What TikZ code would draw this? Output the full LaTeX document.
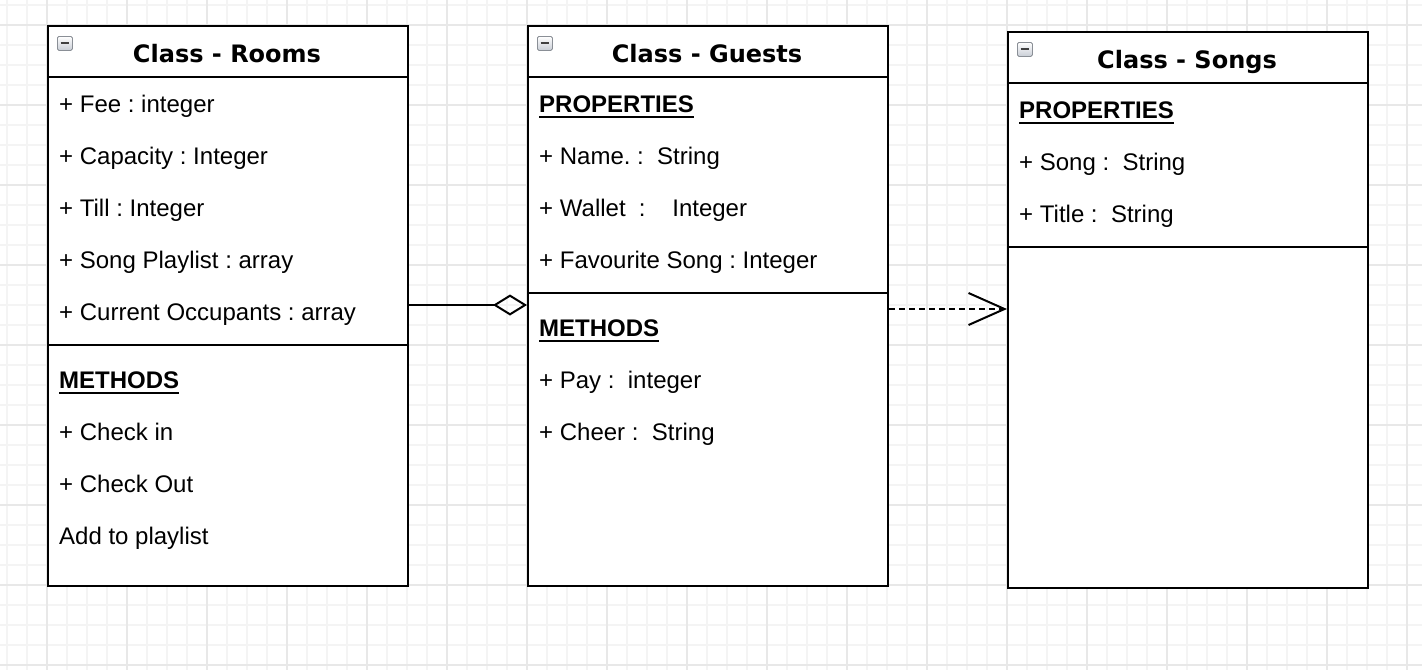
\documentclass[tikz,border=0pt]{standalone}
\usepackage{fontspec}
\setmainfont{Liberation Sans}
\newfontfamily\titlefont{DejaVu Sans}
\usetikzlibrary{arrows.meta}
\definecolor{gridminor}{HTML}{F4F4F4}
\definecolor{gridmajor}{HTML}{E8E8E8}
\definecolor{iconfill}{HTML}{C9CED6}
\definecolor{iconedge}{HTML}{8A8F96}
\newcommand\ulword[1]{\setbox0\hbox{#1}\rlap{\rule[-6pt]{\wd0}{2pt}}\box0}
\tikzset{
  classbox/.style={draw=black, line width=2pt, fill=white, minimum width=360pt, inner sep=0pt, anchor=north west},
  divider/.style={line width=2pt, draw=black},
  ctitle/.style={anchor=base, inner sep=0pt, font=\titlefont\bfseries\fontsize{24}{28}\selectfont},
  attr/.style={anchor=base west, inner sep=0pt, font=\fontsize{24}{28}\selectfont\frenchspacing},
  sect/.style={anchor=base west, inner sep=0pt, font=\bfseries\fontsize{24}{28}\selectfont},
  icon/.style={draw=iconedge, line width=0.8pt, rounded corners=1.5pt, top color=white, bottom color=iconfill, minimum width=15pt, minimum height=14pt, inner sep=0pt, anchor=north west},
  minus/.style={line width=2.4pt, black!75},
  agg/.style={line width=2pt, -{Diamond[open, length=34pt, width=21pt, line width=2pt]}},
  dep/.style={line width=2pt, dash pattern=on 6pt off 4pt, -{Straight Barb[length=36pt, width=32pt, line width=2pt]}}
}
\begin{document}
\begin{tikzpicture}[x=1pt, y=-1pt]
\useasboundingbox (0,0) rectangle (1422,670);
% grid
\foreach \x in {7,27,...,1422} \draw[gridminor, line width=1.2pt] (\x,0) -- (\x,670);
\foreach \y in {5,25,...,670} \draw[gridminor, line width=1.2pt] (0,\y) -- (1422,\y);
\foreach \x in {47,127,...,1422} \draw[gridmajor, line width=1.4pt] (\x,0) -- (\x,670);
\foreach \y in {25,105,...,670} \draw[gridmajor, line width=1.4pt] (0,\y) -- (1422,\y);

% ---------- Rooms ----------
\node[classbox, minimum height=560pt] (rooms) at (47,25) {};
\draw[divider] (47,77) -- (407,77);
\draw[divider] (47,345) -- (407,345);
\node[icon] (roomsicon) at (57,36) {};
\draw[minus] (60.5,43) -- (68.5,43);
\node[ctitle] (roomstitle) at (227,62) {Class - Rooms};
\node[attr] (r1) at (59,112) {+ Fee : integer};
\node[attr] (r2) at (59,164) {+ Capacity : Integer};
\node[attr] (r3) at (59,216) {+ Till : Integer};
\node[attr] (r4) at (59,268) {+ Song Playlist : array};
\node[attr] (r5) at (59,320) {+ Current Occupants : array};
\node[sect] (rm) at (59,388) {\ulword{METHODS}};
\node[attr] (r6) at (59,440) {+ Check in};
\node[attr] (r7) at (59,492) {+ Check Out};
\node[attr] (r8) at (59,544) {Add to playlist};

% ---------- Guests ----------
\node[classbox, minimum height=560pt] (guests) at (527,25) {};
\draw[divider] (527,77) -- (887,77);
\draw[divider] (527,293) -- (887,293);
\node[icon] (guestsicon) at (537,36) {};
\draw[minus] (540.5,43) -- (548.5,43);
\node[ctitle] (gueststitle) at (707,62) {Class - Guests};
\node[sect] (gp) at (539,112) {\ulword{PROPERTIES}};
\node[attr] (g1) at (539,164) {+ Name. :\ \ String};
\node[attr] (g2) at (539,216) {+ Wallet \ :\ \ \ \ Integer};
\node[attr] (g3) at (539,268) {+ Favourite Song : Integer};
\node[sect] (gm) at (539,336) {\ulword{METHODS}};
\node[attr] (g4) at (539,388) {+ Pay :\ \ integer};
\node[attr] (g5) at (539,440) {+ Cheer :\ \ String};

% ---------- Songs ----------
\node[classbox, minimum height=556pt] (songs) at (1007,31) {};
\draw[divider] (1007,83) -- (1367,83);
\draw[divider] (1007,247) -- (1367,247);
\node[icon] (songsicon) at (1017,42) {};
\draw[minus] (1020.5,49) -- (1028.5,49);
\node[ctitle] (songstitle) at (1187,68) {Class - Songs};
\node[sect] (sp) at (1019,118) {\ulword{PROPERTIES}};
\node[attr] (s1) at (1019,170) {+ Song :\ \ String};
\node[attr] (s2) at (1019,222) {+ Title :\ \ String};

% ---------- connectors ----------
\coordinate (aggy) at (0,305);
\coordinate (depy) at (0,309);
\draw[agg] (rooms.east |- aggy) -- (guests.west |- aggy);
\draw[dep] (guests.east |- depy) -- (songs.west |- depy);
\end{tikzpicture}
\end{document}
